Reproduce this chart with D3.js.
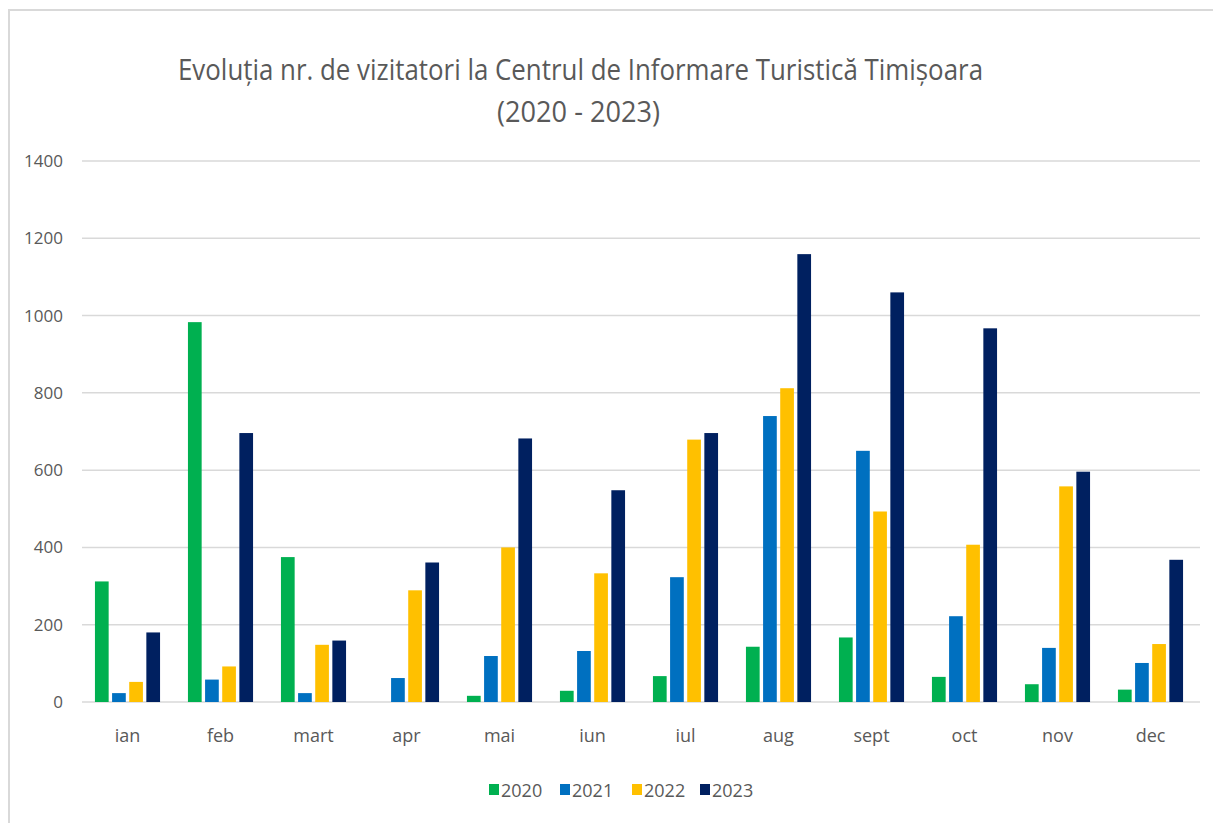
<!DOCTYPE html>
<html>
<head>
<meta charset="utf-8">
<script src="https://cdn.jsdelivr.net/npm/d3@7"></script>
<style>
  body { margin: 0; background: #fff; }
  svg { display: block; }
</style>
</head>
<body>
<svg id="chart" width="1213" height="823"></svg>
<script>
// data
var months = ['ian', 'feb', 'mart', 'apr', 'mai', 'iun', 'iul', 'aug', 'sept', 'oct', 'nov', 'dec'];
var years = ['2020', '2021', '2022', '2023'];
var v2020 = [312, 983, 375, 0, 16, 29, 67, 143, 167, 65, 46, 32];
var v2021 = [23, 58, 23, 62, 119, 132, 323, 740, 650, 222, 140, 101];
var v2022 = [52, 92, 148, 289, 400, 333, 679, 812, 493, 407, 558, 150];
var v2023 = [180, 696, 159, 361, 682, 548, 696, 1159, 1060, 967, 596, 368];
var yTicks = [0, 200, 400, 600, 800, 1000, 1200, 1400];
var colors = ['#00b050', '#0070c0', '#ffc000', '#002060'];

var series = [v2020, v2021, v2022, v2023];
var textColor = '#595959';
var font = 'Open Sans, sans-serif';
var svg = d3.select('#chart');

// outer frame
svg.append('rect')
    .attr('x', 9).attr('y', 10)
    .attr('width', 1210).attr('height', 820)
    .attr('fill', 'none')
    .attr('stroke', '#d9d9d9')
    .attr('stroke-width', 2);

var x0 = d3.scaleBand().domain(months).range([81, 1197]).paddingInner(0.3).paddingOuter(0.15);
var x1 = d3.scaleBand().domain(years).range([0, x0.bandwidth()]).paddingInner(0.2).paddingOuter(0);
var y = d3.scaleLinear().domain([0, 1400]).range([702, 161]);

// gridlines
svg.append('g')
    .selectAll('line')
    .data(yTicks)
    .join('line')
    .attr('x1', 82).attr('x2', 1200)
    .attr('y1', function(d) { return y(d); })
    .attr('y2', function(d) { return y(d); })
    .attr('stroke', '#d9d9d9')
    .attr('stroke-width', 1.5);

// y labels
svg.append('g')
    .selectAll('text')
    .data(yTicks)
    .join('text')
    .attr('x', 63)
    .attr('y', function(d) { return y(d) + 6; })
    .attr('text-anchor', 'end')
    .attr('font-family', font)
    .attr('font-size', 17)
    .attr('fill', textColor)
    .text(function(d) { return d; });

// bars
var groups = svg.append('g')
    .selectAll('g')
    .data(months)
    .join('g')
    .attr('transform', function(d) { return 'translate(' + x0(d) + ',0)'; });

groups.selectAll('rect')
    .data(function(m, i) {
      return years.map(function(yr, k) {
        return {year: yr, value: series[k][i], color: colors[k]};
      });
    })
    .join('rect')
    .attr('x', function(d) { return x1(d.year); })
    .attr('width', x1.bandwidth())
    .attr('y', function(d) { return y(d.value); })
    .attr('height', function(d) { return y(0) - y(d.value); })
    .attr('fill', function(d) { return d.color; });

// x labels
svg.append('g')
    .selectAll('text')
    .data(months)
    .join('text')
    .attr('x', function(d) { return x0(d) + x0.bandwidth() / 2; })
    .attr('y', 742)
    .attr('text-anchor', 'middle')
    .attr('font-family', font)
    .attr('font-size', 18)
    .attr('fill', textColor)
    .text(function(d) { return d; });

// title
svg.append('text')
    .attr('x', 178).attr('y', 80)
    .attr('textLength', 805)
    .attr('lengthAdjust', 'spacingAndGlyphs')
    .attr('font-family', font)
    .attr('font-size', 29)
    .attr('fill', textColor)
    .text('Evoluția nr. de vizitatori la Centrul de Informare Turistică Timișoara');

svg.append('text')
    .attr('x', 497).attr('y', 122)
    .attr('textLength', 163)
    .attr('lengthAdjust', 'spacingAndGlyphs')
    .attr('font-family', font)
    .attr('font-size', 29)
    .attr('fill', textColor)
    .text('(2020 - 2023)');

// legend
var legendX = [489, 560, 632, 700];
var legend = svg.append('g')
    .selectAll('g')
    .data(years)
    .join('g')
    .attr('transform', function(d, i) { return 'translate(' + legendX[i] + ',790)'; });

legend.append('rect')
    .attr('x', 0).attr('y', -6)
    .attr('width', 10).attr('height', 11)
    .attr('fill', function(d, i) { return colors[i]; });

legend.append('text')
    .attr('x', 12).attr('y', 7)
    .attr('font-family', font)
    .attr('font-size', 18)
    .attr('fill', textColor)
    .text(function(d) { return d; });
</script>
</body>
</html>
